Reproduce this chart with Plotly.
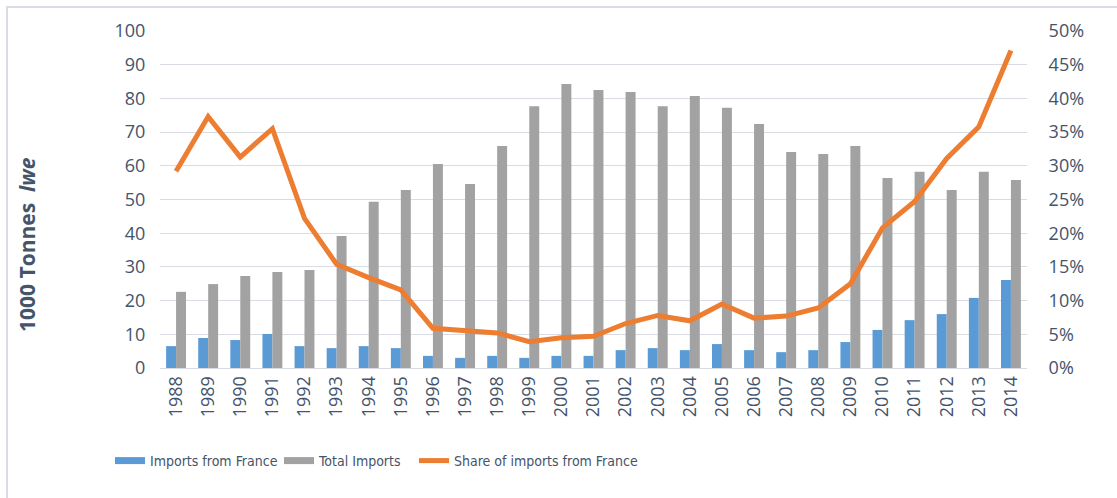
import plotly.graph_objects as go

years = [str(y) for y in range(1988, 2015)]
imports_france = [6.5, 8.9, 8.3, 10.1, 6.5, 5.9, 6.5, 5.9, 3.6, 3.0, 3.6, 3.0, 3.6, 3.6,
                  5.3, 5.9, 5.3, 7.1, 5.3, 4.7, 5.3, 7.7, 11.3, 14.2, 16.0, 20.8, 26.1]
total_imports = [22.6, 24.9, 27.3, 28.5, 29.1, 39.2, 49.3, 52.8, 60.5, 54.6, 65.9, 77.7, 84.3, 82.5,
                 81.9, 77.7, 80.7, 77.2, 72.4, 64.1, 63.5, 65.9, 56.4, 58.2, 52.8, 58.2, 55.8]
share_france = [29.2, 37.3, 31.3, 35.5, 22.2, 15.4, 13.4, 11.6, 5.9, 5.5, 5.2, 3.9, 4.5, 4.7,
                6.6, 7.8, 7.0, 9.5, 7.4, 7.7, 8.9, 12.5, 20.8, 24.7, 31.1, 35.8, 47.1]
share_frac = [v / 100 for v in share_france]

TEXT = "#44546A"
GRID = "#D9DDE3"
BLUE = "#5B9BD5"
GRAY = "#A2A2A2"
ORANGE = "#ED7D31"
TICKFONT = dict(family="'Open Sans', sans-serif", size=18, color=TEXT)
LEGFONT = dict(family="'Liberation Sans Narrow', 'DejaVu Sans Condensed', Lato, sans-serif",
               size=14, color=TEXT)

fig = go.Figure()
fig.add_trace(go.Bar(x=years, y=imports_france, name="Imports from France",
                     marker=dict(color=BLUE, line=dict(width=0)), showlegend=False))
fig.add_trace(go.Bar(x=years, y=total_imports, name="Total Imports",
                     marker=dict(color=GRAY, line=dict(width=0)), showlegend=False))
fig.add_trace(go.Scatter(x=years, y=share_frac, name="Share of imports from France",
                         mode="lines", yaxis="y2", showlegend=False,
                         line=dict(color=ORANGE, width=5)))

# legend entries (wide swatches like the original)
fig.add_trace(go.Scatter(x=[None], y=[None], mode="lines", name="Imports from France",
                         line=dict(color=BLUE, width=7), legend="legend"))
fig.add_trace(go.Scatter(x=[None], y=[None], mode="lines", name="Total Imports",
                         line=dict(color=GRAY, width=7), legend="legend2"))
fig.add_trace(go.Scatter(x=[None], y=[None], mode="lines", name="Share of imports from France",
                         line=dict(color=ORANGE, width=5), legend="legend3"))

def leg(xpx):
    return dict(orientation="h", x=(xpx - 160) / 867, xanchor="left", y=(368 - 461) / 337,
                yanchor="middle", font=LEGFONT, itemwidth=30, bgcolor="rgba(0,0,0,0)")

fig.update_layout(
    width=1117, height=498,
    margin=dict(l=160, r=90, t=31, b=130),
    paper_bgcolor="white", plot_bgcolor="white",
    barmode="group", bargap=0.38, bargroupgap=0,
    font=dict(family="'Open Sans', sans-serif", color=TEXT, size=17),
    xaxis=dict(type="category", tickangle=-90, showgrid=False, showline=True,
               linecolor=GRID, linewidth=1, ticks="", tickfont=TICKFONT),
    yaxis=dict(range=[0, 100], dtick=10, showgrid=True, gridcolor=GRID, gridwidth=1,
               zeroline=False, showline=False, ticks="outside", ticklen=0,
               ticklabelstandoff=10, tickfont=TICKFONT),
    yaxis2=dict(range=[0, 0.5], dtick=0.05, tickformat=".0%", overlaying="y", side="right",
                showgrid=False, zeroline=False, showline=False, ticks="outside", ticklen=0,
                ticklabelstandoff=17, tickfont=TICKFONT),
    legend=leg(110), legend2=leg(279), legend3=leg(414),
    showlegend=True,
)

fig.add_annotation(text="<b>1000 Tonnes&nbsp; <i>lwe</i></b>", xref="paper", yref="paper",
                   x=(27 - 160) / 867, y=(368 - 245) / 337, xanchor="center", yanchor="middle",
                   textangle=-90, showarrow=False,
                   font=dict(family="'Open Sans', sans-serif", size=21, color=TEXT))

fig.add_shape(type="rect", xref="paper", yref="paper",
              x0=(7 - 160) / 867, x1=(1130 - 160) / 867,
              y0=(368 - 510) / 337, y1=(368 - 7) / 337,
              line=dict(color="#D9DDE3", width=2), fillcolor="rgba(0,0,0,0)", layer="below")

fig.write_html("out.html", config={"displayModeBar": False},
               post_script="document.body.style.margin='0';")
